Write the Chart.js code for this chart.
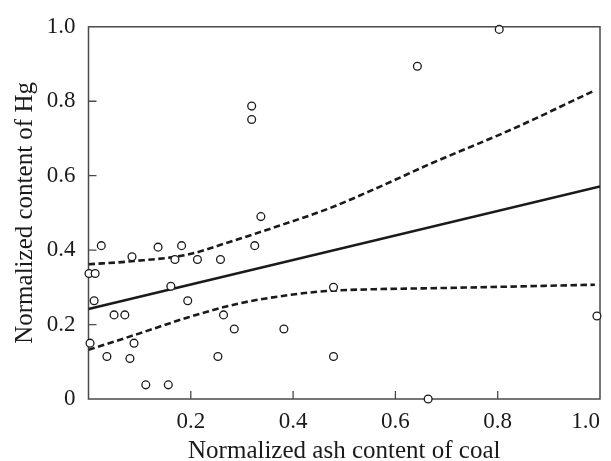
<!DOCTYPE html>
<html>
<head>
<meta charset="utf-8">
<script src="https://cdn.jsdelivr.net/npm/chart.js@4/dist/chart.umd.min.js"></script>
<style>
  html, body { margin: 0; padding: 0; background: #ffffff; }
  #wrap { width: 611px; height: 461px; }
</style>
</head>
<body>
<div id="wrap"><canvas id="c" width="611" height="461"></canvas></div>
<script>
// ---- data ----
const ashX = [0.001, 0.013, 0.025, 0.011, 0.003, 0.036, 0.050, 0.071, 0.081, 0.085,
              0.089, 0.112, 0.136, 0.156, 0.161, 0.169, 0.182, 0.194, 0.213, 0.253,
              0.258, 0.264, 0.285, 0.319, 0.319, 0.325, 0.337, 0.382, 0.479, 0.479,
              0.643, 0.664, 0.803, 0.994];
const hgY  = [0.337, 0.337, 0.412, 0.264, 0.150, 0.114, 0.226, 0.226, 0.109, 0.382,
              0.150, 0.038, 0.408, 0.038, 0.303, 0.375, 0.412, 0.264, 0.375, 0.114,
              0.375, 0.226, 0.188, 0.787, 0.751, 0.412, 0.490, 0.188, 0.300, 0.114,
              0.894, 0.000, 0.993, 0.223];

const fitX = [0.0, 1.0];
const fitY = [0.242, 0.571];

const upperX = [0.0, 0.084, 0.194, 0.276, 0.374, 0.472, 0.569, 0.667, 0.830, 0.988];
const upperY = [0.362, 0.370, 0.388, 0.422, 0.466, 0.513, 0.570, 0.631, 0.726, 0.828];

const lowerX = [0.0, 0.097, 0.194, 0.292, 0.390, 0.465, 0.560, 0.687, 0.990];
const lowerY = [0.132, 0.175, 0.219, 0.256, 0.279, 0.290, 0.295, 0.298, 0.307];

const xTicks = [0, 0.2, 0.4, 0.6, 0.8, 1.0];
const yTicks = [0, 0.2, 0.4, 0.6, 0.8, 1.0];

const xTitle = 'Normalized ash content of coal';
const yTitle = 'Normalized content of Hg';

// ---- build ----
const pairs = (xs, ys) => xs.map((x, i) => ({ x: x, y: ys[i] }));
const INK = '#1a1a1a';
const FONT = 'Liberation Serif';

const boxPlugin = {
  id: 'boxPlugin',
  beforeDatasetsDraw(chart) {
    const { ctx, chartArea: a, scales } = chart;
    ctx.save();
    ctx.strokeStyle = '#4a4a4a';
    ctx.lineWidth = 1.5;
    ctx.strokeRect(a.left, a.top, a.right - a.left, a.bottom - a.top);
    ctx.lineWidth = 1.3;
    ctx.beginPath();
    xTicks.forEach(v => {
      if (v <= 0 || v >= 1) return;
      const px = scales.x.getPixelForValue(v);
      ctx.moveTo(px, a.bottom);
      ctx.lineTo(px, a.bottom - 8);
    });
    yTicks.forEach(v => {
      if (v <= 0 || v >= 1) return;
      const py = scales.y.getPixelForValue(v);
      ctx.moveTo(a.left, py);
      ctx.lineTo(a.left + 8, py);
    });
    ctx.stroke();
    ctx.restore();
  }
};

new Chart(document.getElementById('c'), {
  type: 'scatter',
  data: {
    datasets: [
      {
        label: 'upper',
        type: 'line',
        data: pairs(upperX, upperY),
        borderColor: INK,
        borderWidth: 2.6,
        borderDash: [6.5, 3.5],
        pointRadius: 0,
        fill: false,
        cubicInterpolationMode: 'monotone',
        order: 2
      },
      {
        label: 'lower',
        type: 'line',
        data: pairs(lowerX, lowerY),
        borderColor: INK,
        borderWidth: 2.6,
        borderDash: [6.5, 3.5],
        pointRadius: 0,
        fill: false,
        cubicInterpolationMode: 'monotone',
        order: 2
      },
      {
        label: 'fit',
        type: 'line',
        data: pairs(fitX, fitY),
        borderColor: INK,
        borderWidth: 2.6,
        pointRadius: 0,
        fill: false,
        order: 2
      },
      {
        label: 'samples',
        data: pairs(ashX, hgY),
        pointRadius: 3.9,
        pointBorderWidth: 1.3,
        pointBackgroundColor: '#ffffff',
        pointBorderColor: INK,
        clip: false,
        order: 1
      }
    ]
  },
  options: {
    responsive: false,
    animation: false,
    devicePixelRatio: 1,
    layout: { padding: { top: 15, right: 11, left: 0, bottom: 0 } },
    plugins: { legend: { display: false }, tooltip: { enabled: false } },
    scales: {
      x: {
        type: 'linear',
        min: 0, max: 1,
        afterBuildTicks: s => { s.ticks = xTicks.map(v => ({ value: v })); },
        afterFit: s => { s.height = 62; },
        grid: { display: false, drawTicks: false },
        border: { display: false },
        ticks: {
          align: 'inner',
          padding: 9,
          color: '#1a1a1a',
          font: { family: FONT, size: 23 },
          callback: v => (v === 0 ? '' : Number(v).toFixed(1))
        },
        title: {
          display: true,
          text: xTitle,
          color: '#1a1a1a',
          font: { family: FONT, size: 25, lineHeight: 0.77 },
          padding: 0
        }
      },
      y: {
        type: 'linear',
        min: 0, max: 1,
        afterBuildTicks: s => { s.ticks = yTicks.map(v => ({ value: v })); },
        afterFit: s => { s.width = 88.5; },
        grid: { display: false, drawTicks: false },
        border: { display: false },
        ticks: {
          padding: 13,
          color: '#1a1a1a',
          font: { family: FONT, size: 23 },
          callback: v => (v === 0 ? '0' : Number(v).toFixed(1))
        },
        title: {
          display: true,
          text: yTitle,
          color: '#1a1a1a',
          font: { family: FONT, size: 25 },
          padding: { top: 10, bottom: 0 }
        }
      }
    }
  },
  plugins: [boxPlugin]
});
</script>
</body>
</html>
